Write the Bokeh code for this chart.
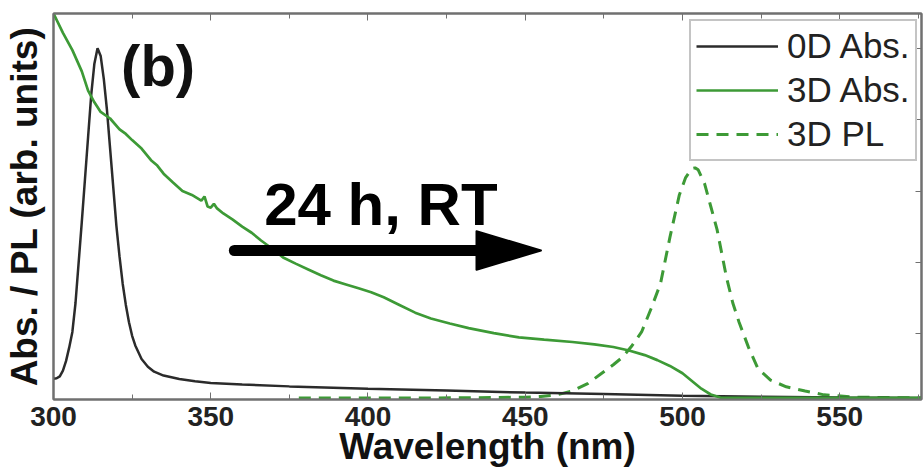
from bokeh.plotting import figure
from bokeh.models import (Range1d, LinearAxis, FixedTicker, SingleIntervalTicker,
                          Legend, LegendItem, Label)
from bokeh.embed import file_html
from bokeh.resources import INLINE

# 0D absorption (arb. units)
wl_0d = [300, 301, 302, 303, 304, 305, 306, 307, 308, 309, 310, 311, 312, 313, 314,
         315, 316, 317, 318, 319, 320, 321, 322, 323, 324, 325, 326, 328, 330, 332,
         335, 340, 345, 350, 360, 375, 400, 425, 450, 475, 500, 525, 550, 576]
abs_0d = [0.054, 0.055, 0.060, 0.075, 0.100, 0.135, 0.175, 0.250, 0.355, 0.460, 0.570,
          0.680, 0.790, 0.870, 0.910, 0.890, 0.830, 0.750, 0.650, 0.550, 0.450, 0.370,
          0.300, 0.245, 0.200, 0.165, 0.140, 0.105, 0.085, 0.072, 0.062, 0.053, 0.047,
          0.043, 0.039, 0.034, 0.028, 0.023, 0.018, 0.014, 0.010, 0.007, 0.005, 0.004]

# 3D absorption (arb. units)
wl_3d = [300, 303, 306, 309, 311, 313, 315, 318, 321, 323, 325, 328, 331, 333, 335,
         338, 341, 344, 347, 348, 349, 350, 351, 352, 354, 357, 360, 363, 366, 370,
         373, 377, 381, 385, 389, 393, 397, 401, 405, 410, 415, 420, 426, 432, 440,
         448, 456, 465, 472, 478, 483, 488, 492, 496, 500, 503, 506, 509, 512, 520,
         540, 560, 576]
abs_3d = [1.000, 0.950, 0.905, 0.850, 0.800, 0.770, 0.745, 0.728, 0.700, 0.688, 0.672,
          0.650, 0.620, 0.606, 0.585, 0.562, 0.540, 0.530, 0.515, 0.526, 0.500, 0.497,
          0.507, 0.495, 0.482, 0.466, 0.448, 0.432, 0.412, 0.388, 0.368, 0.352, 0.337,
          0.322, 0.308, 0.298, 0.288, 0.278, 0.265, 0.245, 0.225, 0.210, 0.197, 0.185,
          0.172, 0.161, 0.155, 0.149, 0.143, 0.136, 0.127, 0.115, 0.102, 0.087, 0.068,
          0.048, 0.028, 0.013, 0.005, 0.004, 0.004, 0.004, 0.004]

# 3D photoluminescence (arb. units)
wl_pl = [378, 400, 420, 440, 450, 455, 460, 465, 470, 474, 478, 481, 484, 487, 490,
         493, 496, 499, 501, 503, 504, 505, 507, 509, 511, 514, 516, 518, 521, 524,
         528, 533, 539, 545, 555, 576]
pl_3d = [0.004, 0.004, 0.004, 0.005, 0.006, 0.008, 0.012, 0.022, 0.042, 0.066, 0.090,
         0.110, 0.140, 0.175, 0.235, 0.300, 0.420, 0.530, 0.575, 0.598, 0.600, 0.595,
         0.560, 0.500, 0.440, 0.316, 0.250, 0.200, 0.135, 0.080, 0.050, 0.033, 0.022,
         0.012, 0.006, 0.004]

x_ticks = [300, 350, 400, 450, 500, 550]
y_ticks = [0.17, 0.355, 0.54, 0.725, 0.91]
y_left_ticks = [0.2, 0.4, 0.6, 0.8]

FONT = "Liberation Sans"
FRAME = "#707070"
BLACK = "#2b2b2b"
GREEN = "#3d9a36"

p = figure(width=923, height=472, output_backend="svg", toolbar_location=None,
           x_range=Range1d(300, 576), y_range=Range1d(0, 1.0),
           min_border_left=52, min_border_right=2, min_border_top=13,
           min_border_bottom=73, background_fill_color="white",
           border_fill_color="white")
p.grid.visible = False
p.outline_line_color = FRAME
p.outline_line_width = 2

# bottom axis
xa = p.xaxis[0]
xa.ticker = SingleIntervalTicker(interval=50, num_minor_ticks=2)
xa.axis_line_color = FRAME
xa.axis_line_width = 2
xa.major_tick_in = 7
xa.major_tick_out = 0
xa.minor_tick_in = 5
xa.minor_tick_out = 0
xa.major_tick_line_color = FRAME
xa.minor_tick_line_color = FRAME
xa.major_label_text_font = FONT
xa.major_label_text_font_style = "bold"
xa.major_label_text_font_size = "28px"
xa.major_label_text_color = "#222222"
xa.major_label_standoff = 7
xa.axis_label = "Wavelength (nm)"
xa.axis_label_text_font = FONT
xa.axis_label_text_font_style = "bold"
xa.axis_label_text_font_size = "37px"
xa.axis_label_text_color = "#111111"
xa.axis_label_standoff = -3

# left axis: label only, no tick marks or tick labels
ya = p.yaxis[0]
ya.ticker = FixedTicker(ticks=y_left_ticks, minor_ticks=[])
ya.major_label_overrides = {t: "" for t in y_left_ticks}
ya.axis_line_color = FRAME
ya.axis_line_width = 2
ya.major_tick_line_color = None
ya.minor_tick_line_color = None
ya.major_label_text_font_size = "0px"
ya.major_label_standoff = 0
ya.axis_label = "Abs. / PL (arb. units)"
ya.axis_label_text_font = FONT
ya.axis_label_text_font_style = "bold"
ya.axis_label_text_font_size = "37px"
ya.axis_label_text_color = "#111111"
ya.axis_label_standoff = 3

# top axis: ticks only
top = LinearAxis(ticker=SingleIntervalTicker(interval=50, num_minor_ticks=2),
                 major_label_overrides={t: "" for t in x_ticks},
                 major_label_text_font_size="0px", major_label_standoff=0,
                 axis_line_color=FRAME, axis_line_width=2,
                 major_tick_in=7, major_tick_out=0, minor_tick_in=5, minor_tick_out=0,
                 major_tick_line_color=FRAME, minor_tick_line_color=FRAME)
p.add_layout(top, "above")

# right axis: ticks only
right = LinearAxis(ticker=FixedTicker(ticks=y_ticks, minor_ticks=[]),
                   major_label_overrides={t: "" for t in y_ticks},
                   major_label_text_font_size="0px", major_label_standoff=0,
                   axis_line_color=FRAME, axis_line_width=2,
                   major_tick_in=6, major_tick_out=0, minor_tick_line_color=None,
                   major_tick_line_color=FRAME)
p.add_layout(right, "right")

r_pl = p.line(wl_pl, pl_3d, line_color=GREEN, line_width=3, line_dash="12 8")
r_0d = p.line(wl_0d, abs_0d, line_color=BLACK, line_width=2.5)
r_3d = p.line(wl_3d, abs_3d, line_color=GREEN, line_width=2.7)

# reaction arrow: 24 h at room temperature
arrow_x0, arrow_x1, arrow_y = 357.5, 455.0, 0.386
head_len, head_half = 20.5, 0.05
p.segment(x0=[arrow_x0], y0=[arrow_y], x1=[arrow_x1 - head_len + 2], y1=[arrow_y],
          line_color="black", line_width=11, line_cap="round")
p.patch([arrow_x1 - head_len, arrow_x1, arrow_x1 - head_len],
        [arrow_y + head_half, arrow_y, arrow_y - head_half],
        fill_color="black", line_color="black", line_width=2, line_join="round")

p.add_layout(Label(x=367.0, y=0.505, text="24 h, RT", text_font=FONT,
                   text_font_style="bold", text_font_size="60px",
                   text_color="black", text_baseline="alphabetic"))
p.add_layout(Label(x=321.5, y=0.865, text="(b)", text_font=FONT,
                   text_font_style="bold", text_font_size="58px",
                   text_color="#111111", text_baseline="alphabetic"))

legend = Legend(items=[LegendItem(label="0D Abs.", renderers=[r_0d]),
                       LegendItem(label="3D Abs.", renderers=[r_3d]),
                       LegendItem(label="3D PL", renderers=[r_pl])],
                location=(636, 238), orientation="vertical",
                label_text_font=FONT, label_text_font_size="35px",
                label_text_color="#222222",
                glyph_width=82, glyph_height=40, label_height=40,
                spacing=4, padding=5, label_standoff=9, margin=0,
                border_line_color="#8a8a8a", border_line_width=2,
                background_fill_color="white", background_fill_alpha=1.0)
p.add_layout(legend)

open("out.html", "w").write(file_html(p, INLINE))
